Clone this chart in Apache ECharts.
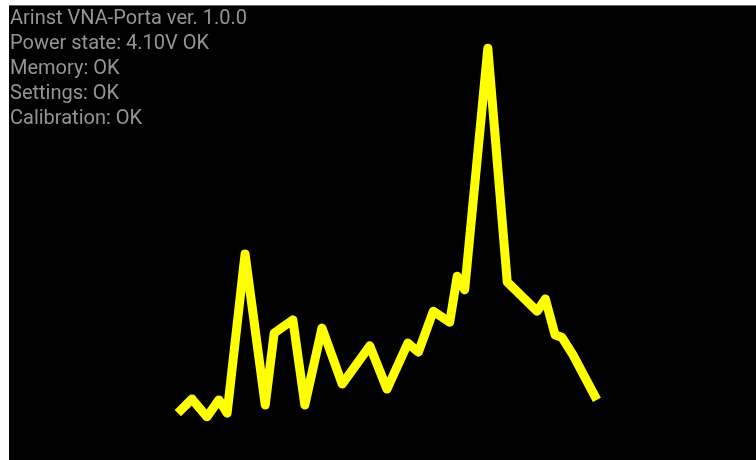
<!DOCTYPE html>
<html>
<head>
<meta charset="utf-8">
<script src="https://cdn.jsdelivr.net/npm/echarts@6/dist/echarts.min.js"></script>
<style>
  html, body { margin: 0; padding: 0; background: #fff; }
  #main { width: 756px; height: 460px; }
</style>
</head>
<body>
<div id="main"></div>
<script>
    // status text on the device screen
    var statusLines = [
        'Arinst VNA-Porta ver. 1.0.0',
        'Power state: 4.10V OK',
        'Memory: OK',
        'Settings: OK',
        'Calibration: OK'
    ];

    // sweep points (x = position across screen, y = level)
    var sweepX = [22.6, 24.5, 26.5, 28.1, 29.2, 31.6, 34.3, 35.5, 38.0, 39.6,
                  41.9, 44.6, 48.3, 50.6, 53.4, 54.8, 56.8, 59.0, 60.0, 61.0,
                  64.1, 66.7, 70.7, 71.8, 73.1, 74.0, 75.5, 78.7];
    var sweepY = [10.3, 13.4, 9.5, 13.2, 10.3, 45.3, 12.1, 27.9, 30.8, 12.1,
                  29.0, 16.7, 25.1, 15.6, 25.7, 23.7, 32.7, 30.3, 40.4, 37.4,
                  90.5, 39.1, 32.7, 35.4, 27.5, 27.0, 23.1, 13.2];

    var seriesData = sweepX.map(function (x, i) { return [x, sweepY[i]]; });

    var myChart = echarts.init(document.getElementById('main'));
    var option = {
        animation: false,
        backgroundColor: '#fff',
        title: {
            text: statusLines.join('\n'),
            left: 10,
            top: 7,
            padding: 0,
            textStyle: {
                fontFamily: 'Roboto',
                fontSize: 20,
                fontWeight: 'normal',
                lineHeight: 24.8,
                color: '#959595'
            }
        },
        grid: {
            left: 9,
            right: 0,
            top: 5,
            bottom: 0,
            show: true,
            backgroundColor: '#000',
            borderWidth: 0
        },
        graphic: [
            {
                // thin grey edge along the top of the screen
                type: 'line',
                shape: { x1: 9, y1: 5.5, x2: 756, y2: 5.5 },
                style: { stroke: '#666', lineWidth: 1 }
            }
        ],
        xAxis: {
            type: 'value',
            min: 0,
            max: 100,
            show: false
        },
        yAxis: {
            type: 'value',
            min: 0,
            max: 100,
            show: false
        },
        series: [
            {
                type: 'line',
                data: seriesData,
                symbol: 'none',
                lineStyle: {
                    color: '#ffff00',
                    width: 9,
                    join: 'round',
                    cap: 'butt'
                }
            }
        ]
    };
    myChart.setOption(option);
</script>
</body>
</html>
